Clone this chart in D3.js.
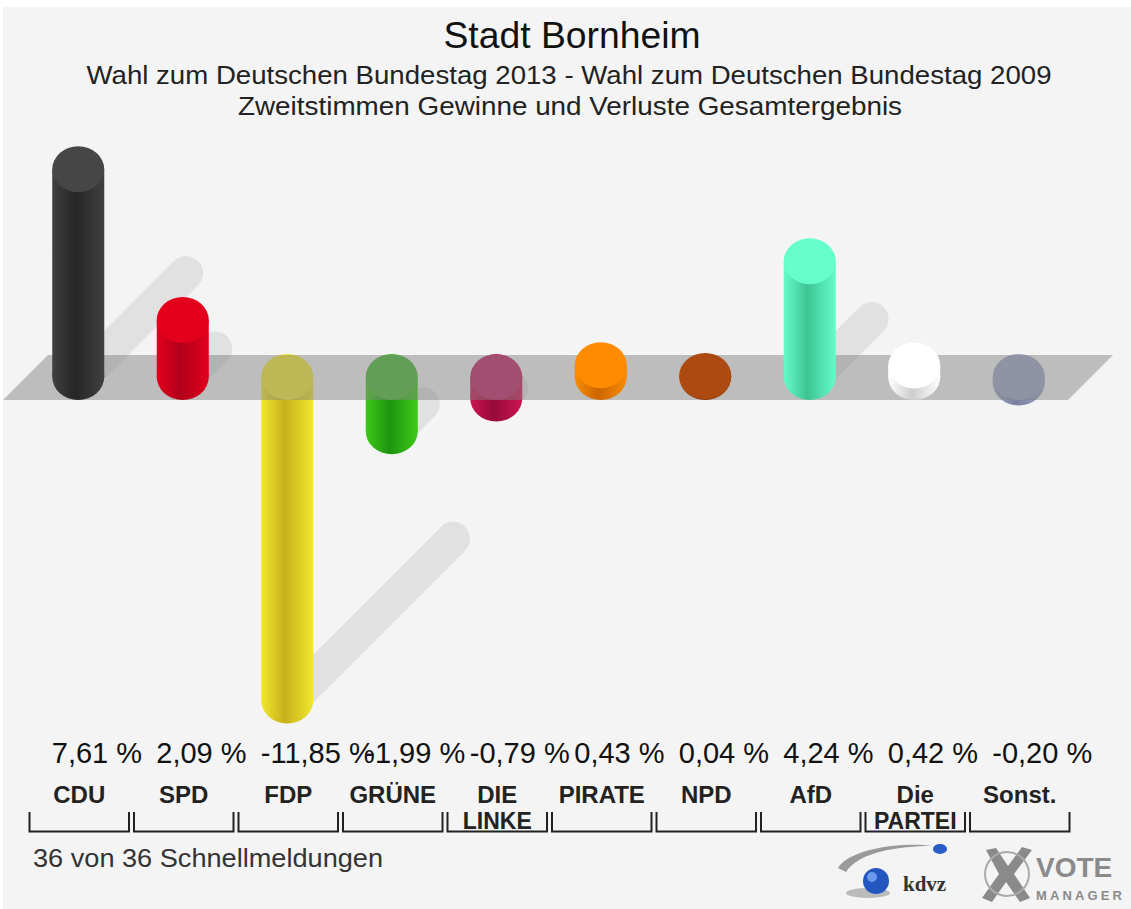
<!DOCTYPE html>
<html>
<head>
<meta charset="utf-8">
<script src="https://cdn.jsdelivr.net/npm/d3@7"></script>
<style>
  html, body { margin: 0; padding: 0; background: #fff; }
  svg { display: block; font-family: "Liberation Sans", Arial, sans-serif; }
</style>
</head>
<body>
<script>
// daten
const parties = ["CDU", "SPD", "FDP", "GRÜNE", "DIE LINKE", "PIRATE", "NPD", "AfD", "Die PARTEI", "Sonst."];
const labelLine1 = ["CDU", "SPD", "FDP", "GRÜNE", "DIE", "PIRATE", "NPD", "AfD", "Die", "Sonst."];
const labelLine2 = ["", "", "", "", "LINKE", "", "", "", "PARTEI", ""];
const values = [7.61, 2.09, -11.85, -1.99, -0.79, 0.43, 0.04, 4.24, 0.42, -0.20];

// farben: deckel, hell, dunkel
const capColors = ["#464646", "#e4001c", "#f3e92e", "#46b82c", "#c02060", "#ff8c00", "#ac4a12", "#66ffcc", "#ffffff", "#9ca4c4"];
const lightColors = ["#404040", "#e2001c", "#f2e82c", "#3cca18", "#cc1452", "#f88c02", "#a84a10", "#64fcca", "#ffffff", "#9ca4c4"];
const darkColors = ["#262626", "#b2001a", "#c6b01c", "#1e9410", "#960a3a", "#cc6600", "#863808", "#3ec494", "#cdcdcd", "#7880a0"];

const width = 1131;
const height = 909;
const rx = 26, ry = 23;

const svg = d3.select("body").append("svg")
  .attr("width", width).attr("height", height);

// hintergrund
svg.append("rect").attr("x", 3).attr("y", 7)
  .attr("width", width - 3).attr("height", height - 7)
  .attr("fill", "#f4f4f4");

const x = d3.scaleBand().domain(parties).range([27, 1072]);
const y = d3.scaleLinear().domain([-12, 8]).range([377 + 12 * 27.3, 377 - 8 * 27.3]);
const cx = d => x(d.party) + x.bandwidth() / 2 - 1;

const data = parties.map((p, i) => ({
  party: p, value: values[i], l1: labelLine1[i], l2: labelLine2[i],
  cap: capColors[i], light: lightColors[i], dark: darkColors[i], i: i
}));

// verläufe
const defs = svg.append("defs");
data.forEach(d => {
  const g = defs.append("linearGradient").attr("id", "grad" + d.i)
    .attr("x1", "0%").attr("x2", "100%").attr("y1", "0%").attr("y2", "0%");
  g.append("stop").attr("offset", "0%").attr("stop-color", d.light);
  g.append("stop").attr("offset", "45%").attr("stop-color", d.dark);
  g.append("stop").attr("offset", "100%").attr("stop-color", d.light);
});

// titel
svg.append("text").attr("x", 572).attr("y", 48).attr("text-anchor", "middle")
  .attr("font-size", 36).attr("fill", "#111").attr("textLength", 257)
  .attr("lengthAdjust", "spacingAndGlyphs").text("Stadt Bornheim");
svg.append("text").attr("x", 569).attr("y", 84).attr("text-anchor", "middle")
  .attr("font-size", 25).attr("fill", "#222").attr("textLength", 965)
  .attr("lengthAdjust", "spacingAndGlyphs")
  .text("Wahl zum Deutschen Bundestag 2013 - Wahl zum Deutschen Bundestag 2009");
svg.append("text").attr("x", 570).attr("y", 115).attr("text-anchor", "middle")
  .attr("font-size", 25).attr("fill", "#222").attr("textLength", 664)
  .attr("lengthAdjust", "spacingAndGlyphs")
  .text("Zweitstimmen Gewinne und Verluste Gesamtergebnis");

// schatten
const k = 0.5;
svg.append("g").selectAll("line").data(data).enter().append("line")
  .attr("x1", d => cx(d) + 4)
  .attr("y1", d => y(Math.min(d.value, 0)))
  .attr("x2", d => cx(d) + 4 + k * Math.abs(y(d.value) - y(0)))
  .attr("y2", d => y(Math.min(d.value, 0)) - k * Math.abs(y(d.value) - y(0)))
  .attr("stroke", "rgba(0,0,0,0.075)")
  .attr("stroke-width", 34)
  .attr("stroke-linecap", "round");

function drawCylinders(g, list) {
  const c = g.selectAll("g.cyl").data(list).enter().append("g").attr("class", "cyl");
  c.append("ellipse")
    .attr("cx", cx).attr("cy", d => y(Math.min(d.value, 0)))
    .attr("rx", rx).attr("ry", ry)
    .attr("fill", d => `url(#grad${d.i})`);
  c.append("rect")
    .attr("x", d => cx(d) - rx).attr("y", d => y(Math.max(d.value, 0)))
    .attr("width", rx * 2)
    .attr("height", d => Math.abs(y(d.value) - y(0)))
    .attr("fill", d => `url(#grad${d.i})`);
  c.append("ellipse")
    .attr("cx", cx).attr("cy", d => y(Math.max(d.value, 0)))
    .attr("rx", rx).attr("ry", ry)
    .attr("fill", d => d.cap);
}

// negative säulen unter dem boden
drawCylinders(svg.append("g"), data.filter(d => d.value < 0));

// boden
const y0 = y(0);
svg.append("polygon")
  .attr("points", [[3, y0 + 23], [48, y0 - 22], [1113, y0 - 22], [1068, y0 + 23]].map(p => p.join(",")).join(" "))
  .attr("fill", "rgb(130,130,130)").attr("fill-opacity", 0.48);

// positive säulen
drawCylinders(svg.append("g"), data.filter(d => d.value >= 0));

// werte
const fmt = v => d3.format(".2f")(v).replace("−", "-").replace(".", ",") + " %";
svg.append("g").selectAll("text").data(data).enter().append("text")
  .attr("x", d => cx(d) - 26.5).attr("y", 763)
  .attr("font-size", 29).attr("fill", "#111")
  .text(d => fmt(d.value));

// parteinamen
svg.append("g").selectAll("text").data(data).enter().append("text")
  .attr("x", d => cx(d) + 1).attr("y", 803)
  .attr("text-anchor", "middle").attr("font-size", 24).attr("font-weight", "bold")
  .attr("fill", "#222").text(d => d.l1);
svg.append("g").selectAll("text").data(data.filter(d => d.l2)).enter().append("text")
  .attr("x", d => cx(d) + 1).attr("y", 829)
  .attr("text-anchor", "middle").attr("font-size", 23).attr("font-weight", "bold")
  .attr("fill", "#222").text(d => d.l2);

// klammern
svg.append("g").selectAll("path").data(data).enter().append("path")
  .attr("d", d => {
    const a = x(d.party) + 2.5, b = x(d.party) + x.bandwidth() - 2.5;
    return `M${a},812V831.5H${b}V812`;
  })
  .attr("fill", "none").attr("stroke", "#222").attr("stroke-width", 2);

// fußzeile
svg.append("text").attr("x", 33).attr("y", 867)
  .attr("font-size", 25).attr("fill", "#333").attr("textLength", 350)
  .attr("lengthAdjust", "spacingAndGlyphs").text("36 von 36 Schnellmeldungen");

// logos
const logo = svg.append("g");
logo.append("path").attr("d", "M838,868 C850,848 905,842 932,846 C900,846 858,852 846,872 Z")
  .attr("fill", "#9a9a9a");
logo.append("ellipse").attr("cx", 940).attr("cy", 849).attr("rx", 7).attr("ry", 5).attr("fill", "#2a5cc8");
logo.append("ellipse").attr("cx", 868).attr("cy", 893).attr("rx", 22).attr("ry", 5).attr("fill", "#bbb");
logo.append("circle").attr("cx", 876).attr("cy", 881).attr("r", 13).attr("fill", "#2456c0");
logo.append("circle").attr("cx", 872).attr("cy", 877).attr("r", 5).attr("fill", "#6a9aee");
logo.append("text").attr("x", 903).attr("y", 891).attr("font-size", 21).attr("font-weight", "bold")
  .attr("font-family", "Liberation Serif, serif").attr("fill", "#333").text("kdvz");
logo.append("path").attr("d", "M986,850 L996,848 L1008,866 L1022,847 L1032,850 L1014,874 L1030,898 L1020,902 L1006,882 L992,902 L982,898 L999,874 Z")
  .attr("fill", "#8a8a8a");
logo.append("circle").attr("cx", 1007).attr("cy", 874).attr("r", 22)
  .attr("fill", "none").attr("stroke", "#aaa").attr("stroke-width", 2);
logo.append("text").attr("x", 1036).attr("y", 877).attr("font-size", 28).attr("font-weight", "bold")
  .attr("fill", "#8a8a8a").text("VOTE");
logo.append("text").attr("x", 1036).attr("y", 900).attr("font-size", 13).attr("font-weight", "bold")
  .attr("fill", "#8a8a8a").attr("textLength", 86).text("MANAGER");
</script>
</body>
</html>
